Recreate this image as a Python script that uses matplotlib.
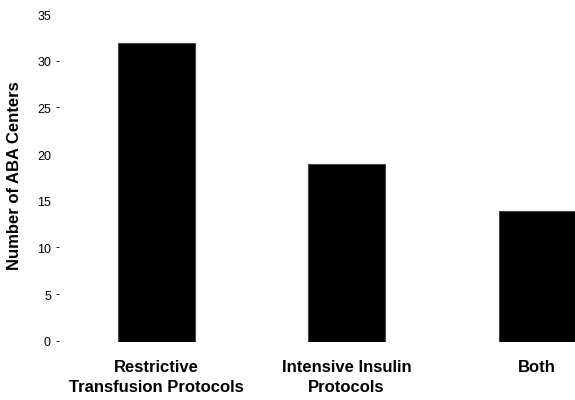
import matplotlib
matplotlib.use("Agg")
import matplotlib.pyplot as plt
from matplotlib.transforms import blended_transform_factory

categories = ["Restrictive\nTransfusion Protocols", "Intensive Insulin\nProtocols", "Both"]
values = [32, 19, 14]
ytick_values = [0, 5, 10, 15, 20, 25, 30, 35]
ytick_labels = ["0", "5", "10", "15", "20", "25", "30", "35"]
ytick_dashed = [0, 5, 10, 25, 30]

plt.rcParams['font.family'] = ['Liberation Sans', 'DejaVu Sans']

W, H = 575, 400
fig = plt.figure(figsize=(W/100, H/100), dpi=100)
ax = fig.add_axes([80/W, 1-342/H, 1-80/W, (342-15)/H])

x = list(range(len(categories)))
ax.bar(x, values, width=0.403, color='black', edgecolor='#444444', linewidth=0.8)
ax.set_xlim(-0.4, 2.2)
ax.set_ylim(0, 35)

for s in ax.spines.values():
    s.set_visible(False)

ax.set_yticks(ytick_values)
ax.set_yticklabels(ytick_labels, fontsize=9)
ax.tick_params(axis='y', length=0, pad=(80-51)*72/100)

trans = blended_transform_factory(fig.transFigure, ax.transData)
for v in ytick_dashed:
    ax.text(56/W, v, "-", transform=trans, ha='left', va='center', fontsize=9, clip_on=False)

ax.set_xticks(x)
ax.set_xticklabels(categories, fontsize=12, fontweight='bold', linespacing=1.4)
ax.tick_params(axis='x', length=0, pad=13)

ax.set_ylabel("Number of ABA Centers", fontsize=12, fontweight='bold')
ax.yaxis.set_label_coords(15/W, 1-176/H, transform=fig.transFigure)
ax.yaxis.label.set_va('center')

fig.savefig("out.png", dpi=100)
